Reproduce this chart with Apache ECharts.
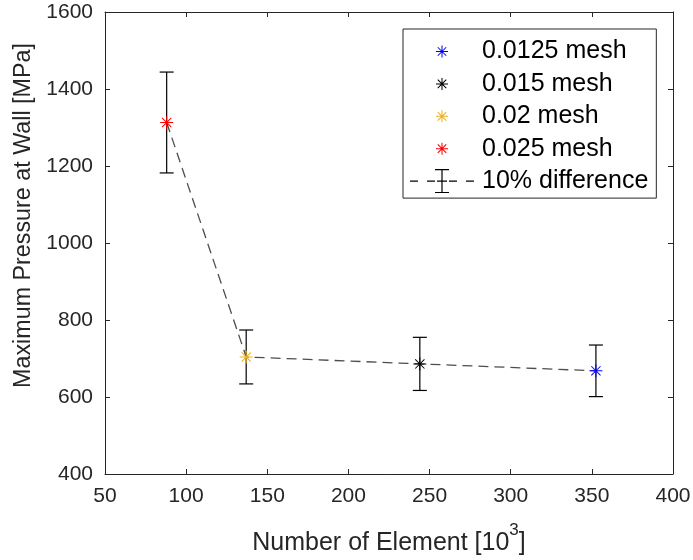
<!DOCTYPE html>
<html>
<head>
<meta charset="utf-8">
<script src="https://cdn.jsdelivr.net/npm/echarts@6/dist/echarts.min.js"></script>
<style>html,body{margin:0;padding:0;background:#fff}#c{width:693px;height:560px}</style>
</head>
<body>
<div id="c"></div>
<script>
// ---- data ----
const meshNames = ['0.0125 mesh', '0.015 mesh', '0.02 mesh', '0.025 mesh'];
const elements = [352.5, 244, 137, 88];        // x: number of elements [10^3]
const pressure = [668, 686, 704, 1313];        // y: maximum pressure at wall [MPa]
const pressureLow = [601, 617, 634, 1182];     // lower end of 10% difference bar
const pressureHigh = [735, 755, 774, 1444];    // upper end of 10% difference bar
const errorName = '10% difference';
const xMin = 50, xMax = 400, xStep = 50;
const yMin = 400, yMax = 1600, yStep = 200;

// ---- styles ----
const meshColors = ['#0000ff', '#000000', '#edb120', '#ff0000'];
const SANS = "'Liberation Sans', Arial, Helvetica, sans-serif";
const axisColor = '#262626';

function bar(x1, y1, x2, y2, h) {
  const dx = x2 - x1, dy = y2 - y1, L = Math.hypot(dx, dy);
  const nx = -dy / L * h, ny = dx / L * h;
  const p = [[x1 + nx, y1 + ny], [x2 + nx, y2 + ny], [x2 - nx, y2 - ny], [x1 - nx, y1 - ny]];
  return 'M' + p.map(q => q[0].toFixed(3) + ',' + q[1].toFixed(3)).join('L') + 'Z';
}
function rect(x1, y1, x2, y2) {
  return 'M' + x1 + ',' + y1 + 'L' + x2 + ',' + y1 + 'L' + x2 + ',' + y2 + 'L' + x1 + ',' + y2 + 'Z';
}
function dot(x, y) { return 'M' + x + ',' + y + 'L' + x + ',' + y + 'Z'; }
function asteriskPath(h, pad) {
  const d = Math.SQRT1_2;
  let s = bar(0, -1, 0, 1, h) + bar(-1, 0, 1, 0, h) + bar(-d, -d, d, d, h) + bar(-d, d, d, -d, h);
  if (pad) s += dot(-pad[0], -pad[1]) + dot(pad[0], pad[1]);
  return 'path://' + s;
}
const LW = 70, LH = 26;
const starSymbol = asteriskPath(0.075);
const starLegend = asteriskPath(0.085, [LW / 12, LH / 12]);
const errLegend = 'path://' + dot(0, 0) + dot(LW, LH) +
  rect(3, 12.4, 11, 13.6) + rect(20, 12.4, 28, 13.6) + rect(30, 12.4, 40, 13.6) +
  rect(42, 12.4, 50, 13.6) + rect(59, 12.4, 67, 13.6) +
  rect(34.4, 1, 35.6, 25) + rect(28, 1, 42, 2.2) + rect(28, 23.8, 42, 25);

// line through points, in x order
const order = elements.map((v, i) => i).sort((a, b) => elements[a] - elements[b]);
const lineData = order.map(i => [elements[i], pressure[i]]);
const errData = order.map(i => [elements[i], pressureLow[i], pressureHigh[i]]);

const series = [
  {
    name: errorName, type: 'line', data: lineData, symbol: 'none', z: 2,
    color: '#4d4d4d',
    lineStyle: { color: '#4d4d4d', width: 1.3, type: [10, 6] },
    animation: false
  },
  {
    name: errorName, type: 'custom', data: errData, z: 3,
    encode: { x: 0, y: [1, 2] },
    renderItem: function (params, api) {
      const x = api.value(0), lo = api.value(1), hi = api.value(2);
      const t = api.coord([x, hi]), b = api.coord([x, lo]);
      const w = 7;
      const st = { stroke: '#000', lineWidth: 1.2 };
      return {
        type: 'group', children: [
          { type: 'line', shape: { x1: t[0], y1: t[1], x2: b[0], y2: b[1] }, style: st },
          { type: 'line', shape: { x1: t[0] - w, y1: t[1], x2: t[0] + w, y2: t[1] }, style: st },
          { type: 'line', shape: { x1: b[0] - w, y1: b[1], x2: b[0] + w, y2: b[1] }, style: st }
        ]
      };
    },
    animation: false
  }
];
meshNames.forEach((n, i) => {
  series.push({
    name: n, type: 'scatter', data: [[elements[i], pressure[i]]],
    symbol: starSymbol, symbolSize: 13, z: 5,
    itemStyle: { color: meshColors[i], opacity: 1 },
    emphasis: { disabled: true },
    animation: false
  });
});

const legendData = meshNames.map(n => ({ name: n, icon: starLegend }));
legendData.push({ name: errorName, icon: errLegend, itemStyle: { color: '#000' } });

const axisCommon = {
  splitLine: { show: false },
  axisLine: { show: true, lineStyle: { color: axisColor, width: 1 } },
  axisTick: { show: true, inside: true, length: 5, lineStyle: { color: axisColor, width: 1 } }
};
const plain = v => String(v);

const chart = echarts.init(document.getElementById('c'), null, { renderer: 'canvas' });
chart.setOption({
  animation: false,
  backgroundColor: '#fff',
  grid: { left: 105, right: 20, top: 12, bottom: 86, containLabel: false, outerBoundsMode: 'none' },
  legend: {
    data: legendData, orient: 'vertical', left: 403, top: 29,
    itemWidth: LW, itemHeight: LH, itemGap: 6.4,
    padding: [9.5, 8, 4, 4],
    backgroundColor: '#fff', borderColor: axisColor, borderWidth: 1, borderRadius: 0,
    textStyle: { fontFamily: SANS, fontSize: 25, color: '#000' },
    selectedMode: false
  },
  xAxis: [
    Object.assign({}, axisCommon, {
      type: 'value', min: xMin, max: xMax, interval: xStep, position: 'bottom',
      axisLabel: { margin: 12, fontFamily: SANS, fontSize: 21, color: axisColor, formatter: plain },
      name: '{a|Number of Element [10}{s|3}{a|]}', nameLocation: 'middle', nameGap: 48,
      nameTextStyle: {
        rich: {
          a: { fontFamily: SANS, fontSize: 25, color: axisColor, lineHeight: 43 },
          s: { fontFamily: SANS, fontSize: 17, color: axisColor, lineHeight: 17, verticalAlign: 'top' }
        }
      }
    }),
    Object.assign({}, axisCommon, {
      type: 'value', min: xMin, max: xMax, interval: xStep, position: 'top',
      axisLabel: { show: false }
    })
  ],
  yAxis: [
    Object.assign({}, axisCommon, {
      type: 'value', min: yMin, max: yMax, interval: yStep, position: 'left',
      axisLabel: { margin: 12, fontFamily: SANS, fontSize: 21, color: axisColor, formatter: plain },
      name: 'Maximum Pressure at Wall [MPa]', nameLocation: 'middle', nameGap: 64.5, nameRotate: 90,
      nameTextStyle: { fontFamily: SANS, fontSize: 23.3, color: axisColor, padding: [0, 0, 0, 55] }
    }),
    Object.assign({}, axisCommon, {
      type: 'value', min: yMin, max: yMax, interval: yStep, position: 'right',
      axisLabel: { show: false }
    })
  ],
  series: series
});
</script>
</body>
</html>
